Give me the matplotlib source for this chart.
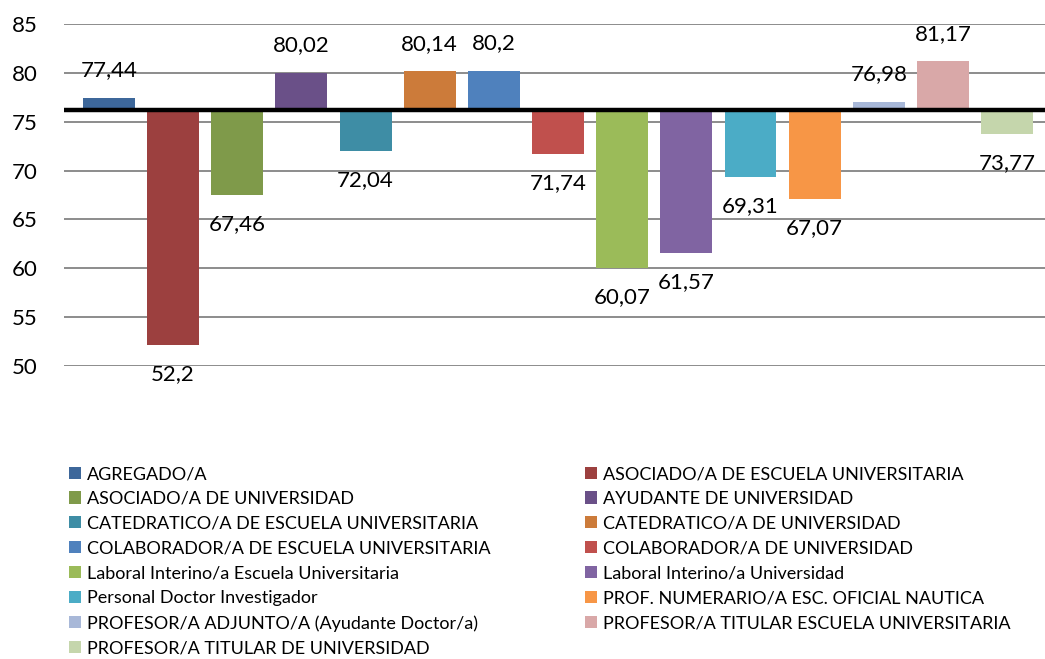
import matplotlib
matplotlib.use("Agg")
import matplotlib.pyplot as plt
from matplotlib.patches import Patch

plt.rcParams['font.family'] = ['Lato', 'DejaVu Sans']

categories = [
    "AGREGADO/A",
    "ASOCIADO/A DE ESCUELA UNIVERSITARIA",
    "ASOCIADO/A DE UNIVERSIDAD",
    "AYUDANTE DE UNIVERSIDAD",
    "CATEDRATICO/A DE ESCUELA UNIVERSITARIA",
    "CATEDRATICO/A DE UNIVERSIDAD",
    "COLABORADOR/A DE ESCUELA UNIVERSITARIA",
    "COLABORADOR/A DE UNIVERSIDAD",
    "Laboral Interino/a Escuela Universitaria",
    "Laboral Interino/a Universidad",
    "Personal Doctor Investigador",
    "PROF. NUMERARIO/A ESC. OFICIAL NAUTICA",
    "PROFESOR/A ADJUNTO/A (Ayudante Doctor/a)",
    "PROFESOR/A TITULAR ESCUELA UNIVERSITARIA",
    "PROFESOR/A TITULAR DE UNIVERSIDAD",
]
values = [77.44, 52.2, 67.46, 80.02, 72.04, 80.14, 80.2, 71.74,
          60.07, 61.57, 69.31, 67.07, 76.98, 81.17, 73.77]
baseline = 76.2
colors = ["#3D679A", "#9C403F", "#7F9A4A", "#6A5088", "#3E8DA5", "#CC7B3A",
          "#4F81BD", "#C0504D", "#9BBB59", "#8064A2", "#4BACC6", "#F79646",
          "#A8B8D8", "#D9A8A8", "#C5D6AC"]
yticks = [50, 55, 60, 65, 70, 75, 80, 85]

W, H = 1045, 659
fig = plt.figure(figsize=(W / 100, H / 100), dpi=100)
ax = fig.add_axes([64 / W, 1 - 366 / H, (W - 64) / W, (366 - 24) / H])

x = list(range(len(values)))
heights = [v - baseline for v in values]
bars = ax.bar(x, heights, bottom=baseline, width=0.81, color=colors, zorder=2)

for xi, v in zip(x, values):
    label = f"{v:g}".replace(".", ",")
    if v >= baseline:
        off = 20
    else:
        off = -21
    ax.annotate(label, (xi, v), xytext=(0, off), textcoords="offset points",
                ha="center", va="center", fontsize=16, color="#000000",
                annotation_clip=False, zorder=4)

ax.axhline(baseline, color="black", linewidth=3.2, zorder=3)

ax.set_ylim(50, 85)
ax.set_xlim(-0.70, 14.59)
ax.set_yticks(yticks)
ax.set_yticklabels([str(t) for t in yticks], fontsize=16)
ax.set_xticks([])
ax.tick_params(axis="y", length=0, pad=19)
ax.yaxis.grid(True, color="#8C8C8C", linewidth=1.4, zorder=0)
ax.set_axisbelow(True)
for s in ax.spines.values():
    s.set_visible(False)

handles = [Patch(facecolor=c, edgecolor="none") for c in colors]
left_idx = list(range(0, 15, 2))
right_idx = list(range(1, 15, 2))

common = dict(frameon=False, fontsize=13, handlelength=0.66, handleheight=0.66,
              handletextpad=0.33, labelspacing=0.49, borderpad=0, borderaxespad=0,
              loc="upper left")
leg1 = fig.legend([handles[i] for i in left_idx], [categories[i] for i in left_idx],
                  bbox_to_anchor=(69 / W, 1 - 466 / H), **common)
leg2 = fig.legend([handles[i] for i in right_idx], [categories[i] for i in right_idx],
                  bbox_to_anchor=(585 / W, 1 - 466 / H), **common)

fig.savefig("out.png", dpi=100)
